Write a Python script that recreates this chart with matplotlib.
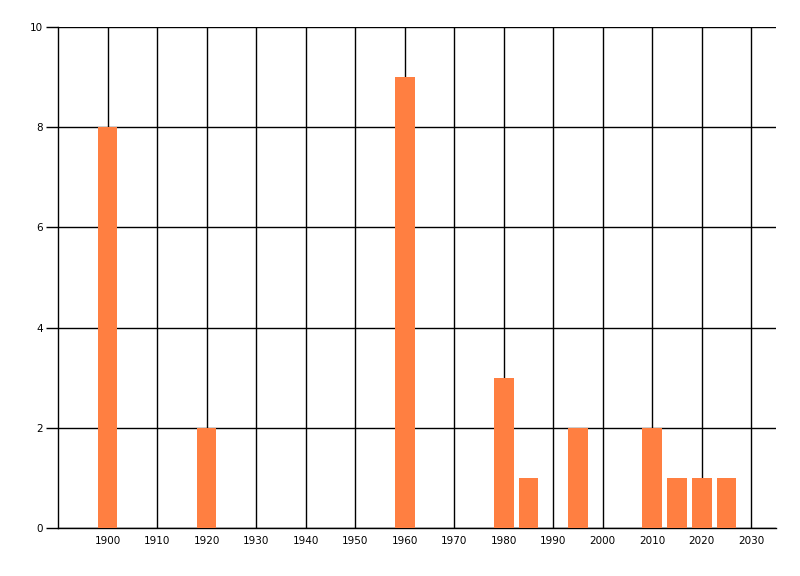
import matplotlib
matplotlib.use("Agg")
import matplotlib.pyplot as plt

# bar data
years = [1900, 1920, 1960, 1980, 1985, 1995, 2010, 2015, 2020, 2025]
counts = [8, 2, 9, 3, 1, 2, 2, 1, 1, 1]
x_ticks = list(range(1900, 2031, 10))
y_ticks = [0, 2, 4, 6, 8, 10]

fig = plt.figure(figsize=(8, 5.76), dpi=100)
ax = fig.add_axes([58 / 800, 1 - 528 / 576, (776 - 58) / 800, (528 - 27) / 576])

ax.bar(years, counts, width=4, color="#ff7f41", zorder=3)

ax.set_xlim(1890, 2035)
ax.set_ylim(0, 10)
ax.set_xticks(x_ticks)
ax.set_yticks(y_ticks)
ax.grid(True, color="black", linewidth=1, zorder=1)

for side in ["top", "right"]:
    ax.spines[side].set_visible(False)
ax.spines["left"].set_linewidth(1)
ax.spines["bottom"].set_linewidth(1)

ax.tick_params(axis="x", length=0, pad=6, labelsize=7.5)
ax.tick_params(axis="y", length=9, width=1, pad=2, labelsize=7.5)

fig.savefig("out.png", dpi=100)
